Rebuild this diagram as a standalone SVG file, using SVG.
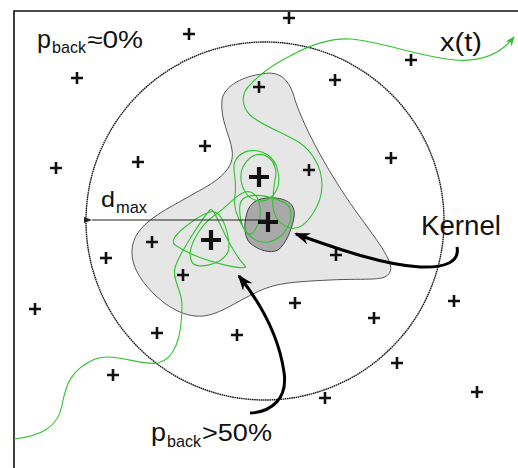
<svg xmlns="http://www.w3.org/2000/svg" xmlns:xlink="http://www.w3.org/1999/xlink" width="518" height="468" viewBox="0 0 518 468">
<style>
  text { font-family: "Liberation Sans", Arial, sans-serif; fill: #111; }
  .pt { stroke: #111; stroke-width: 2.6; fill: none; }
  .ptL { stroke: #111; stroke-width: 4.2; fill: none; }
  .traj { fill: none; stroke: #2fc42f; stroke-width: 1.1; }
  .bigarrow { fill: none; stroke: #000; stroke-width: 3; }
</style>
<defs>
  <path id="p" d="M-6,0H6M0,-6V6"/>
  <path id="P" d="M-10,0H10M0,-10V10"/>
  <marker id="barb" viewBox="0 0 16 12" refX="14" refY="6" markerWidth="16" markerHeight="12" markerUnits="userSpaceOnUse" orient="auto">
    <path d="M0,0 L16,6 L0,12 L5,6 Z" fill="#000"/>
  </marker>
  <marker id="thin" viewBox="0 0 8 6" refX="0" refY="3" markerWidth="8" markerHeight="6" markerUnits="userSpaceOnUse" orient="auto">
    <path d="M8,0 L0,3 L8,6 Z" fill="#222"/>
  </marker>
  <marker id="green" viewBox="0 0 10 8" refX="9" refY="4" markerWidth="10" markerHeight="8" markerUnits="userSpaceOnUse" orient="auto">
    <path d="M0,0 L10,4 L0,8 L3,4 Z" fill="#2fc42f"/>
  </marker>
</defs>
<rect width="518" height="468" fill="#fff"/>
<path d="M14,468 V11 H518" fill="none" stroke="#111" stroke-width="1.6"/>

<g id="range-circle">
  <circle cx="265" cy="221" r="179" fill="none" stroke="#111" stroke-width="1.4" stroke-dasharray="1.6 0.6"/>
</g>

<g id="region">
  <path d="M262,74 C280,70 290,80 295,100 C305,130 330,175 355,210 C375,238 395,262 390,272 C385,282 370,278 330,280 C290,282 275,283 255,293 C230,305 215,318 195,316 C175,314 155,298 142,280 C130,263 128,245 140,230 C152,215 175,205 195,193 C220,180 235,168 232,150 C230,135 220,120 222,100 C224,85 245,76 262,74 Z" fill="#e6e6e6" stroke="#555" stroke-width="1"/>
</g>

<g id="kernel">
  <path d="M248,210 C252,200 262,197 275,198 C288,199 296,205 294,217 C292,230 285,245 278,250 C270,254 258,250 250,243 C243,236 244,220 248,210 Z" fill="#a9a9a9" stroke="#444" stroke-width="1"/>
</g>

<g id="trajectory">
  <path class="traj" marker-end="url(#green)" d="M14,439 C40,436 58,428 62,405 C66,385 70,370 95,359 C115,352 140,366 158,363 C178,358 182,330 182,305 C182,290 172,280 175,268 C178,255 205,215 210,210 C215,205 225,245 245,266 C250,272 200,262 175,245 C165,238 200,215 210,212 C222,207 232,240 228,252 C222,265 195,270 192,262 C185,250 200,225 215,215 C230,205 235,195 245,192 C260,188 265,215 255,230 C245,245 238,215 240,205 C242,190 270,195 285,203 C300,212 285,245 262,242 C245,240 232,210 235,195 C238,175 228,165 240,155 C252,145 275,152 278,172 C282,190 270,205 255,200 C240,195 235,170 250,158 C262,148 280,160 275,180 C272,200 268,220 290,228 C305,232 322,205 322,185 C322,165 310,150 300,143 C285,133 260,125 250,115 C240,105 242,92 250,85 C258,76 272,65 290,56 C310,45 330,38 350,39 C380,41 420,57 455,60 C480,62 500,55 514,37"/>
</g>

<g id="points">
  <use href="#p" class="pt" x="289" y="18"/>
  <use href="#p" class="pt" x="189" y="34"/>
  <use href="#p" class="pt" x="77" y="78"/>
  <use href="#p" class="pt" x="259" y="87"/>
  <use href="#p" class="pt" x="335" y="80"/>
  <use href="#p" class="pt" x="411" y="60"/>
  <use href="#p" class="pt" x="205" y="146"/>
  <use href="#p" class="pt" x="138" y="162"/>
  <use href="#p" class="pt" x="56" y="168"/>
  <use href="#p" class="pt" x="309" y="170"/>
  <use href="#p" class="pt" x="391" y="158"/>
  <use href="#p" class="pt" x="152" y="242"/>
  <use href="#p" class="pt" x="106" y="258"/>
  <use href="#p" class="pt" x="183" y="275"/>
  <use href="#p" class="pt" x="336" y="255"/>
  <use href="#p" class="pt" x="295" y="303"/>
  <use href="#p" class="pt" x="454" y="301"/>
  <use href="#p" class="pt" x="35" y="309"/>
  <use href="#p" class="pt" x="157" y="333"/>
  <use href="#p" class="pt" x="237" y="335"/>
  <use href="#p" class="pt" x="374" y="318"/>
  <use href="#p" class="pt" x="113" y="375"/>
  <use href="#p" class="pt" x="397" y="363"/>
  <use href="#p" class="pt" x="325" y="398"/>
  <use href="#p" class="pt" x="477" y="392"/>
  <use href="#P" class="ptL" x="259" y="177"/>
  <use href="#P" class="ptL" x="268" y="222"/>
  <use href="#P" class="ptL" x="211" y="240"/>
</g>

<g id="connectors">
  <path d="M268,220 H92" fill="none" stroke="#222" stroke-width="1" marker-end="url(#thin)"/>
  <path class="bigarrow" marker-end="url(#barb)" d="M457,247 C460,262 445,268 420,267 C385,265 340,250 296,234"/>
  <path class="bigarrow" marker-end="url(#barb)" d="M250,413 C272,412 288,398 284,372 C279,338 262,305 239,276"/>
</g>

<g id="label-pback-0">
  <text x="37" y="48" font-size="26" textLength="14" lengthAdjust="spacingAndGlyphs">p</text>
  <text x="52" y="53" font-size="17" textLength="34" lengthAdjust="spacingAndGlyphs">back</text>
  <text x="87" y="48" font-size="24" textLength="56" lengthAdjust="spacingAndGlyphs">≈0%</text>
</g>
<g id="label-xt">
  <text x="440" y="51" font-size="26" textLength="42" lengthAdjust="spacingAndGlyphs">x(t)</text>
</g>
<g id="label-dmax">
  <text x="101" y="207" font-size="22" textLength="14" lengthAdjust="spacingAndGlyphs">d</text>
  <text x="116" y="213" font-size="17" textLength="31" lengthAdjust="spacingAndGlyphs">max</text>
</g>
<g id="label-kernel">
  <text x="421" y="235" font-size="28" textLength="80" lengthAdjust="spacingAndGlyphs">Kernel</text>
</g>
<g id="label-pback-50">
  <text x="151" y="441" font-size="26" textLength="15" lengthAdjust="spacingAndGlyphs">p</text>
  <text x="167" y="447" font-size="17" textLength="34" lengthAdjust="spacingAndGlyphs">back</text>
  <text x="202" y="441" font-size="24" textLength="70" lengthAdjust="spacingAndGlyphs">&gt;50%</text>
</g>
</svg>
